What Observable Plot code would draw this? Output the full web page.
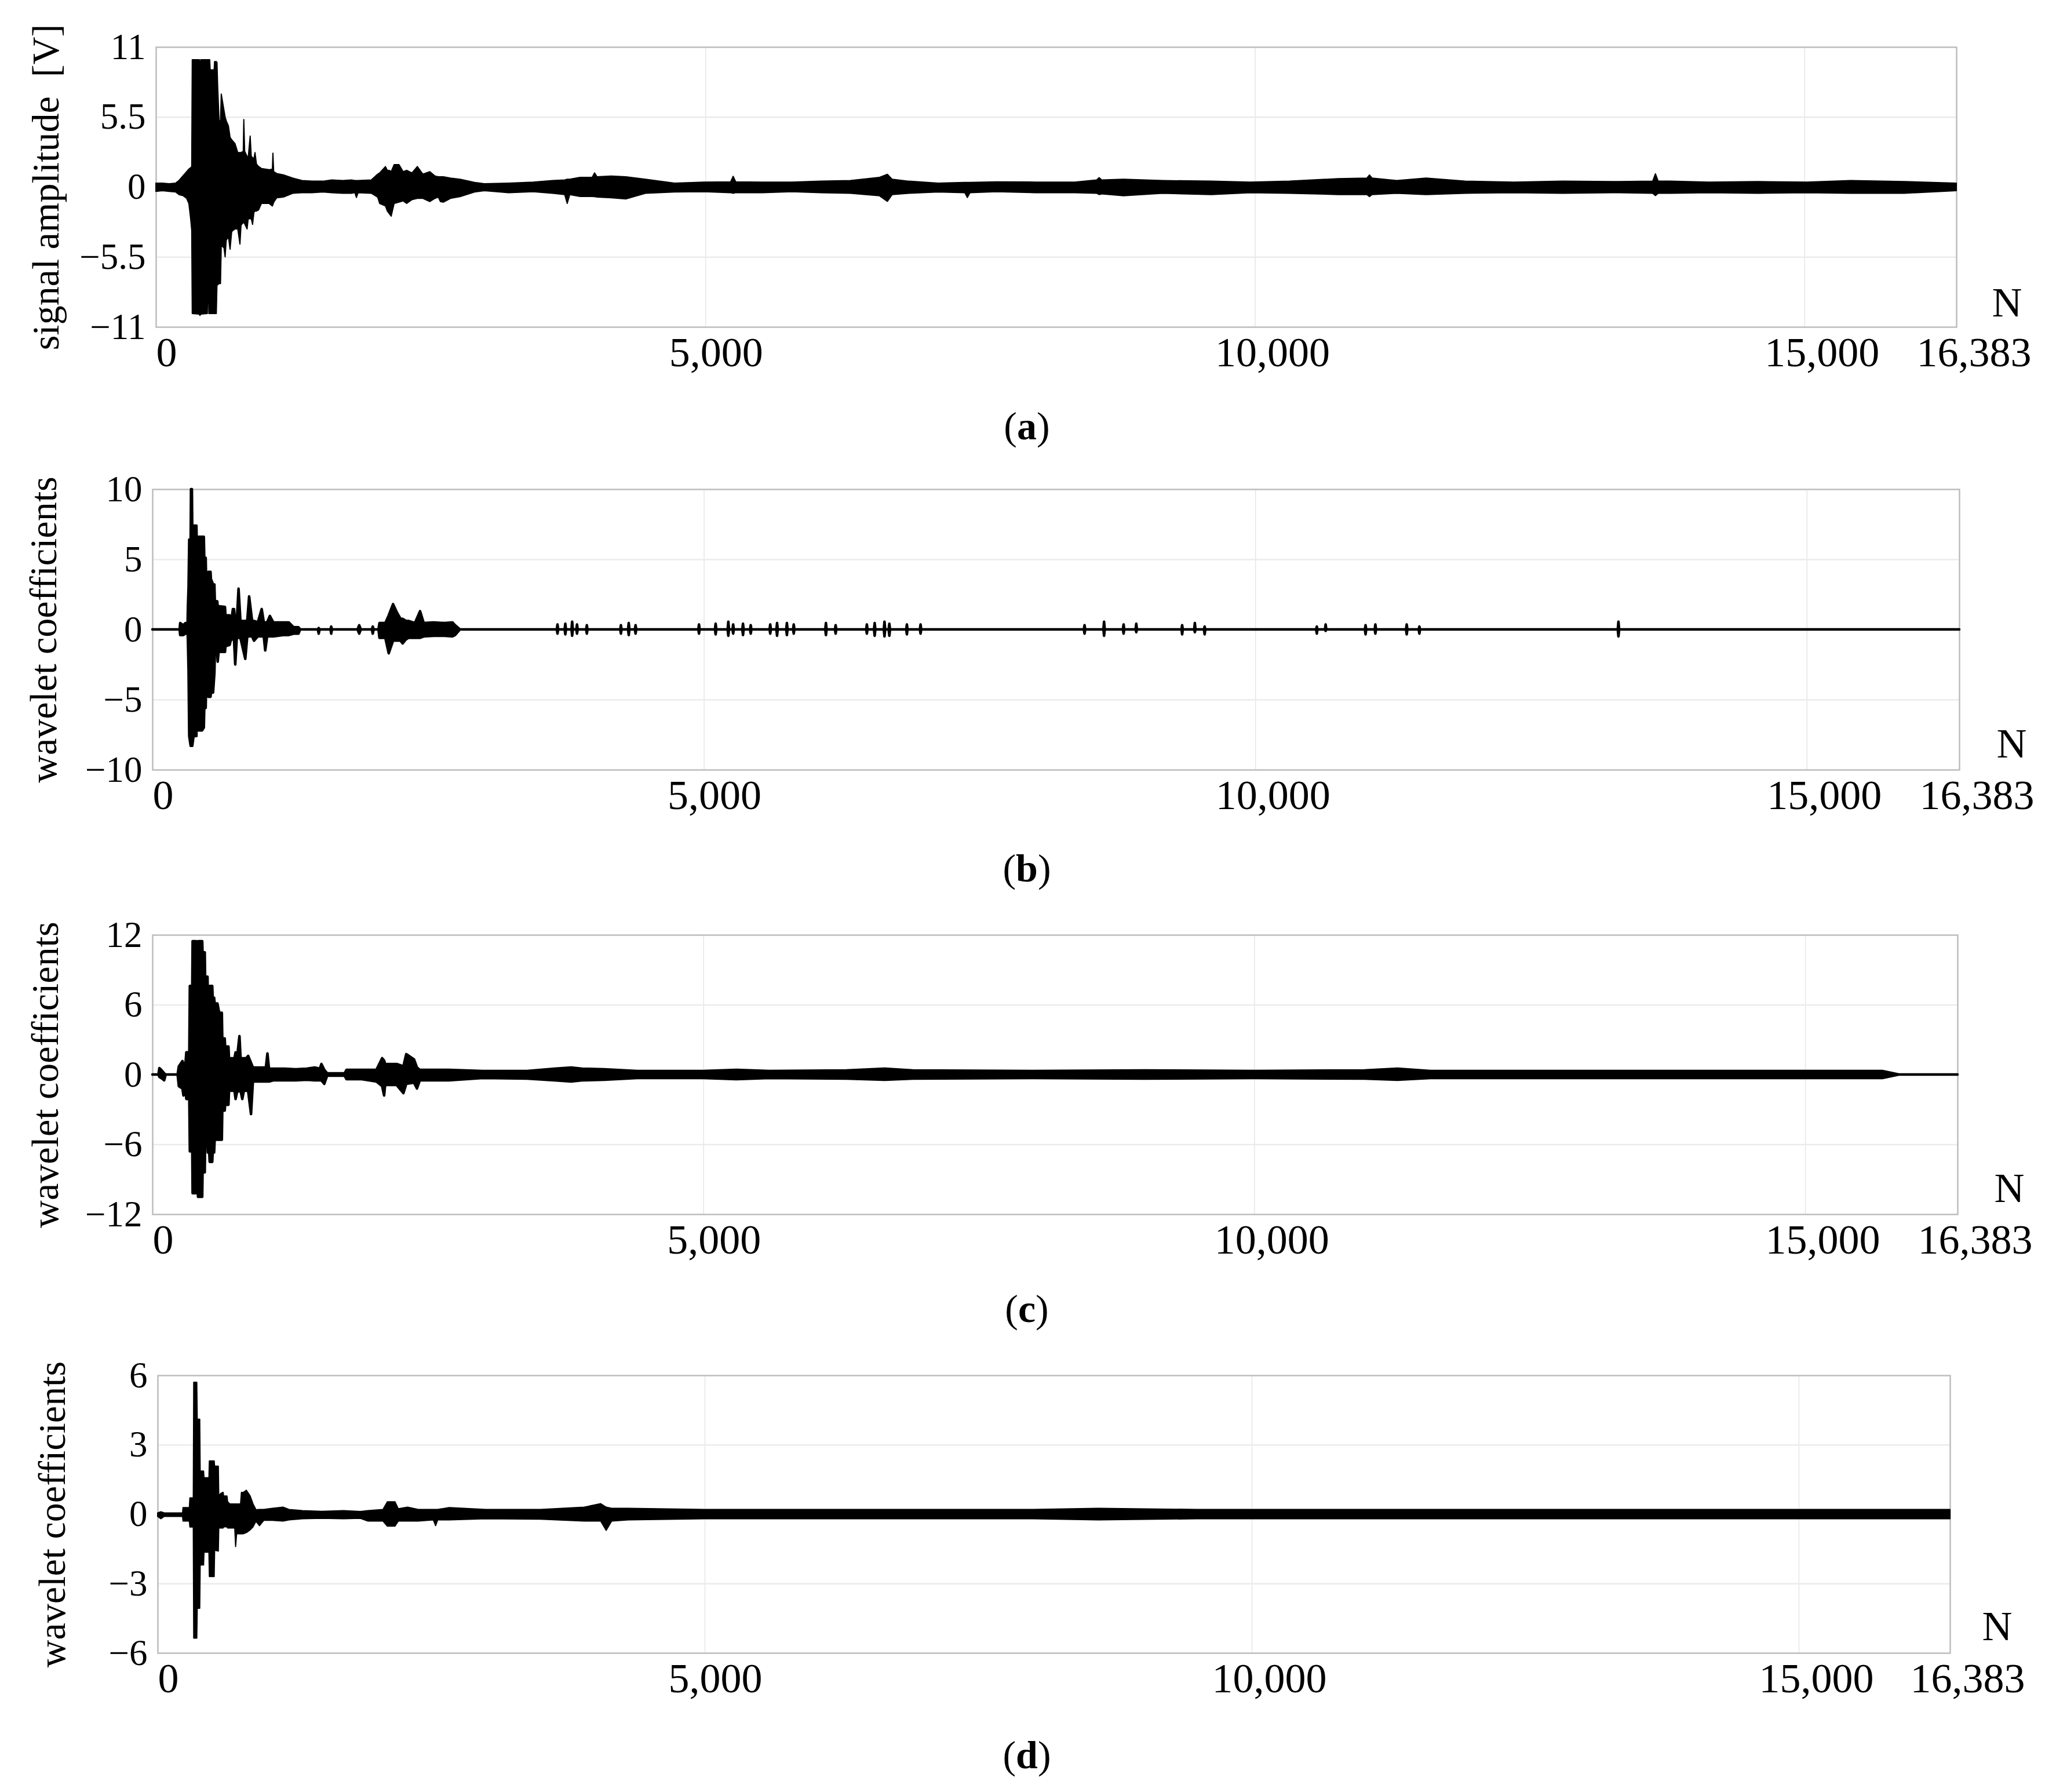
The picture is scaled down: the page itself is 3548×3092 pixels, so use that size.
<!DOCTYPE html>
<html>
<head>
<meta charset="utf-8">
<script src="https://cdn.jsdelivr.net/npm/d3@7"></script>
<script src="https://cdn.jsdelivr.net/npm/@observablehq/plot@0.6"></script>
<style>
  html, body { margin: 0; padding: 0; background: #fff; }
  #root { position: relative; width: 3548px; height: 3092px; background: #fff; overflow: hidden; }
  .panel { position: absolute; left: 0; }
  .cap { position: absolute; font-family: 'Liberation Serif', 'Times New Roman', serif; font-size: 68px; color: #000; transform: translate(-50%, -50%); white-space: nowrap; }
</style>
</head>
<body>
<div id="root"></div>
<script>
// ---------- tick values / labels ----------
const xTicksLeft = [0, 5000];
const xTicksRight = [10000, 15000, 16383];
const xGrid = [5000, 10000, 15000];
const yTicksA = [-11, -5.5, 0, 5.5, 11];
const yTicksB = [-10, -5, 0, 5, 10];
const yTicksC = [-12, -6, 0, 6, 12];
const yTicksD = [-6, -3, 0, 3, 6];
const titles = ["signal amplitude\u00a0 [V]", "wavelet coefficients", "wavelet coefficients", "wavelet coefficients"];
const captions = ["a", "b", "c", "d"];

// ---------- signal envelopes: [N, upper, lower] ----------
const envA = [
  [0,0.3,-0.35],[60,0.3,-0.3],[120,0.25,-0.35],[180,0.3,-0.4],[210,0.5,-0.6],[250,0.9,-0.7],[280,1.2,-0.9],
  [300,1.4,-1.3],[315,1.5,-2.4],[326,1.6,-3.4],[331,10.0,-9.95],[395,10.0,-10.0],[401,9.4,-10.1],[408,10.0,-10.0],
  [468,10.0,-9.95],[472,10.0,-8.0],[478,10.0,-8.0],[482,10.0,-9.95],[490,10.0,-9.95],[494,9.2,-9.95],[530,9.2,-9.95],
  [534,9.85,-9.95],[550,9.85,-9.95],[556,9.8,-7.7],[562,8.0,-7.7],[575,5.2,-7.6],[588,5.2,-7.6],[595,7.3,-4.6],
  [620,6.0,-4.8],[630,5.5,-5.5],[640,5.2,-4.2],[660,4.8,-3.9],[675,3.9,-4.9],[690,3.7,-3.5],[720,3.4,-3.3],
  [745,2.7,-3.3],[765,2.7,-4.5],[775,2.7,-3.0],[795,2.8,-2.8],[800,5.3,-2.8],[808,2.8,-2.9],[830,2.4,-3.3],
  [840,2.3,-2.5],[858,4.0,-2.5],[868,2.4,-2.5],[880,2.3,-2.95],[892,2.2,-2.0],[902,2.7,-1.9],[915,1.8,-1.9],
  [935,1.6,-1.8],[960,1.45,-1.3],[1030,1.35,-1.3],[1060,1.4,-1.5],[1065,2.65,-1.4],[1072,1.2,-1.2],[1100,1.05,-0.85],
  [1160,0.95,-0.8],[1245,0.7,-0.5],[1330,0.5,-0.45],[1420,0.45,-0.45],[1520,0.45,-0.4],[1600,0.55,-0.45],
  [1700,0.5,-0.5],[1780,0.55,-0.5],[1810,0.5,-0.45],[1825,0.5,-0.83],[1840,0.5,-0.45],[1960,0.55,-0.5],[2018,1.0,-0.8],
  [2036,1.1,-1.3],[2089,1.6,-1.5],[2106,1.3,-1.9],[2124,1.3,-2.1],[2141,1.2,-2.3],[2168,1.75,-1.3],[2212,1.75,-1.2],
  [2250,1.2,-1.1],[2282,1.3,-1.3],[2330,1.1,-1.0],[2379,1.6,-0.9],[2430,1.0,-0.9],[2493,1.2,-1.15],[2540,0.85,-0.9],
  [2570,0.8,-0.8],[2589,0.8,-1.15],[2616,0.8,-1.2],[2680,0.7,-0.9],[2767,0.6,-0.76],[2900,0.35,-0.4],[2989,0.25,-0.3],
  [3211,0.3,-0.45],[3433,0.38,-0.38],[3610,0.5,-0.5],[3720,0.55,-0.6],[3743,0.6,-1.3],[3766,0.6,-0.6],[3860,0.75,-0.75],
  [3970,0.75,-0.75],[3992,1.1,-0.76],[4014,0.8,-0.8],[4143,0.85,-0.85],[4276,0.8,-0.95],[4454,0.6,-0.5],[4720,0.3,-0.4],
  [4987,0.38,-0.38],[5230,0.4,-0.45],[5253,0.83,-0.5],[5276,0.4,-0.45],[5519,0.38,-0.45],[5786,0.38,-0.38],
  [6052,0.45,-0.45],[6319,0.5,-0.5],[6585,0.75,-0.7],[6656,0.99,-1.14],[6700,0.6,-0.6],[6851,0.45,-0.5],
  [7118,0.3,-0.4],[7360,0.35,-0.45],[7384,0.35,-0.83],[7408,0.35,-0.45],[7650,0.4,-0.38],[8006,0.38,-0.45],
  [8361,0.38,-0.45],[8560,0.55,-0.5],[8583,0.73,-0.6],[8606,0.55,-0.55],[8805,0.6,-0.7],[9160,0.5,-0.5],
  [9604,0.45,-0.6],[9959,0.38,-0.45],[10315,0.45,-0.5],[10759,0.65,-0.6],[11020,0.7,-0.6],[11043,0.94,-0.76],
  [11066,0.7,-0.6],[11291,0.5,-0.5],[11558,0.7,-0.6],[11913,0.45,-0.5],[12357,0.38,-0.45],[12801,0.45,-0.5],
  [13245,0.42,-0.45],[13620,0.45,-0.5],[13645,1.03,-0.68],[13670,0.45,-0.5],[13778,0.45,-0.5],[14133,0.38,-0.45],
  [14577,0.42,-0.5],[15021,0.38,-0.45],[15421,0.5,-0.5],[15909,0.42,-0.5],[16383,0.3,-0.3]
];

const envB = [
  [0,0,0],[247,0,0],[252,0.45,-0.4],[280,0.3,-0.4],[300,0.45,-0.3],[308,0,0],[318,0,0],[322,1.6,-0.75],[328,3.0,-3.0],
  [334,6.4,-7.6],[347,6.4,-8.3],[350,10.0,-8.3],[358,10.0,-8.3],[361,7.4,-8.3],[373,7.4,-7.6],[399,7.4,-7.6],
  [402,6.0,-5.0],[415,6.0,-5.0],[418,6.6,-7.2],[450,6.6,-7.2],[466,6.6,-7.0],[470,5.1,-5.6],[483,5.1,-5.6],
  [487,3.5,-3.9],[504,3.5,-3.9],[507,4.1,-4.8],[527,4.1,-4.8],[530,3.6,-4.5],[550,3.2,-4.5],[562,3.2,-3.1],
  [566,2.0,-1.7],[588,2.0,-1.7],[592,1.65,-2.3],[600,1.65,-1.6],[658,1.6,-1.6],[662,1.0,-1.2],[700,1.0,-1.1],
  [711,0.35,-0.75],[730,1.45,-0.7],[740,1.45,-0.7],[751,0.5,-2.5],[765,0.5,-0.6],[781,2.9,-0.6],[798,0.6,-0.6],
  [842,0.6,-2.1],[860,0.6,-0.5],[877,2.35,-0.5],[904,0.6,-0.5],[921,0.6,-0.8],[956,0.5,-0.5],[991,1.45,-0.5],
  [1010,0.5,-0.5],[1023,0.5,-1.5],[1040,0.5,-0.5],[1065,0.96,-0.5],[1096,0.5,-0.5],[1184,0.5,-0.4],[1236,0.5,-0.4],
  [1280,0.15,-0.3],[1324,0.15,-0.3],[1340,0,0],[1500,0,0],[1508,0.1,-0.3],[1516,0,0],[1615,0,0],[1621,0.2,-0.3],
  [1628,0,0],[1860,0,0],[1875,0.3,-0.3],[1890,0,0],[1990,0,0],[1998,0.2,-0.3],[2006,0,0],[2050,0,0],[2059,0.45,-0.6],
  [2112,0.45,-0.6],[2143,1.0,-1.7],[2182,1.8,-0.8],[2217,1.2,-0.8],[2250,0.75,-0.8],[2269,0.75,-1.0],[2300,0.6,-0.7],
  [2322,0.6,-0.6],[2380,0.45,-0.6],[2427,1.3,-0.6],[2460,0.45,-0.5],[2550,0.5,-0.45],[2650,0.45,-0.45],[2720,0.5,-0.5],
  [2744,0.3,-0.4],[2788,0,0],
  // isolated coefficient spikes further out
  [3667,0,0],[3673,0.35,-0.3],[3679,0,0],[3738,0,0],[3744,0.4,-0.35],[3750,0,0],[3800,0,0],[3806,0.55,-0.45],[3812,0,0],
  [3844,0,0],[3850,0.35,-0.3],[3856,0,0],[3933,0,0],[3939,0.3,-0.3],[3945,0,0],
  [4242,0,0],[4248,0.3,-0.3],[4254,0,0],[4313,0,0],[4319,0.45,-0.4],[4325,0,0],[4375,0,0],[4381,0.3,-0.3],[4387,0,0],
  [4950,0,0],[4956,0.35,-0.3],[4962,0,0],[5101,0,0],[5107,0.4,-0.35],[5113,0,0],[5216,0,0],[5222,0.55,-0.45],[5228,0,0],
  [5260,0,0],[5266,0.35,-0.3],[5272,0,0],[5349,0,0],[5355,0.4,-0.4],[5361,0,0],[5419,0,0],[5425,0.3,-0.3],[5431,0,0],
  [5596,0,0],[5602,0.35,-0.3],[5608,0,0],[5658,0,0],[5664,0.45,-0.45],[5670,0,0],[5747,0,0],[5753,0.45,-0.4],[5759,0,0],
  [5809,0,0],[5815,0.35,-0.3],[5821,0,0],[6101,0,0],[6107,0.45,-0.4],[6113,0,0],[6189,0,0],[6195,0.3,-0.3],[6201,0,0],
  [6472,0,0],[6478,0.35,-0.3],[6484,0,0],[6543,0,0],[6549,0.45,-0.45],[6555,0,0],[6632,0,0],[6638,0.55,-0.5],[6644,0,0],
  [6676,0,0],[6682,0.4,-0.45],[6688,0,0],[6835,0,0],[6841,0.35,-0.35],[6847,0,0],[6959,0,0],[6965,0.35,-0.3],[6971,0,0],
  [8446,0,0],[8452,0.3,-0.3],[8458,0,0],[8623,0,0],[8629,0.55,-0.45],[8635,0,0],[8800,0,0],[8806,0.35,-0.3],[8812,0,0],
  [8915,0,0],[8921,0.4,-0.2],[8927,0,0],[9331,0,0],[9337,0.3,-0.35],[9343,0,0],[9446,0,0],[9452,0.45,-0.2],[9458,0,0],
  [9535,0,0],[9541,0.2,-0.35],[9547,0,0],[10552,0,0],[10558,0.2,-0.3],[10564,0,0],[10632,0,0],[10638,0.35,-0.1],[10644,0,0],
  [10994,0,0],[11000,0.3,-0.35],[11006,0,0],[11083,0,0],[11089,0.35,-0.3],[11095,0,0],[11367,0,0],[11373,0.35,-0.35],[11379,0,0],
  [11482,0,0],[11488,0.2,-0.3],[11494,0,0],[13287,0,0],[13293,0.55,-0.5],[13299,0,0],
  [16383,0,0]
];

const envC = [
  [0,0,0],[55,0,0],[63,0.55,-0.2],[80,0.4,-0.3],[107,0.1,-0.5],[120,0,0],[229,0,0],[240,0.7,-1.0],[273,1.15,-1.2],
  [282,0.9,-1.8],[300,0.9,-1.2],[308,1.9,-2.1],[335,1.9,-2.1],[340,7.6,-6.6],[362,7.6,-6.6],[365,11.45,-10.2],
  [396,11.45,-10.2],[400,5.8,-4.2],[408,5.8,-4.2],[414,11.45,-10.5],[452,11.45,-10.5],[455,10.5,-8.4],[475,10.5,-8.4],
  [478,8.4,-5.9],[500,8.4,-5.9],[503,6.6,-6.7],[516,6.6,-6.7],[520,7.6,-7.5],[543,7.6,-7.5],[547,6.6,-6.7],
  [560,6.6,-6.7],[565,6.1,-5.6],[590,6.1,-5.6],[606,5.3,-5.6],[630,5.3,-5.6],[634,3.1,-3.1],[656,3.1,-3.1],
  [660,2.4,-2.6],[690,2.4,-2.6],[695,1.4,-1.4],[745,1.4,-1.4],[755,1.9,-2.1],[768,1.4,-1.5],[790,3.3,-1.4],
  [800,1.4,-1.4],[816,1.4,-2.1],[830,1.4,-1.4],[851,1.4,-1.4],[869,1.6,-1.4],[895,1.0,-3.4],[912,0.6,-0.6],
  [991,0.6,-0.6],[1030,0.6,-0.6],[1044,1.8,-0.6],[1058,0.5,-0.6],[1096,0.5,-0.5],[1200,0.5,-0.5],[1300,0.45,-0.5],[1400,0.5,-0.45],
  [1473,0.6,-0.5],[1520,0.5,-0.5],[1534,0.9,-0.5],[1560,0.4,-0.8],[1586,0.1,-0.1],[1744,0.1,-0.1],[1762,0.4,-0.4],[1900,0.4,-0.4],
  [2033,0.4,-0.6],[2085,1.4,-1.0],[2103,1.2,-1.8],[2112,0.9,-0.9],[2217,0.9,-0.9],[2278,0.7,-1.6],[2304,1.75,-0.8],
  [2374,1.3,-0.7],[2401,0.6,-1.2],[2427,0.4,-0.5],[2690,0.4,-0.5],[3000,0.3,-0.3],[3400,0.3,-0.35],[3650,0.5,-0.5],
  [3800,0.6,-0.6],[3900,0.5,-0.5],[4100,0.45,-0.45],[4400,0.3,-0.3],[5000,0.3,-0.3],[5300,0.4,-0.4],[5600,0.3,-0.3],[6300,0.35,-0.35],
  [6650,0.5,-0.45],[6900,0.35,-0.35],[8000,0.3,-0.3],[9000,0.35,-0.35],[10000,0.3,-0.3],[11000,0.35,-0.35],
  [11300,0.5,-0.45],[11600,0.3,-0.3],[13000,0.3,-0.3],[14500,0.3,-0.3],[15700,0.3,-0.3],[15850,0,0],[16383,0,0]
];

const envD = [
  [0,0.05,-0.1],[30,0.1,-0.2],[60,0.05,-0.1],[228,0.05,-0.1],[232,0.28,-0.3],[290,0.28,-0.3],[295,0.7,-0.56],
  [326,0.7,-0.56],[330,5.7,-5.36],[358,5.7,-5.36],[362,4.1,-4.07],[385,4.1,-4.07],[389,1.86,-2.2],[420,1.86,-2.2],
  [424,1.57,-1.65],[469,1.57,-1.65],[473,2.3,-2.7],[517,2.3,-2.7],[521,2.07,-1.56],[555,2.07,-1.6],[559,0.78,-0.6],
  [578,0.9,-0.6],[599,0.94,-0.6],[603,0.78,-0.55],[634,0.78,-0.55],[640,0.53,-0.6],[660,0.44,-0.6],[705,0.44,-0.6],
  [713,0.44,-1.4],[722,0.44,-0.85],[758,0.44,-0.85],[766,0.94,-0.85],[784,0.94,-0.85],[811,1.03,-0.8],[846,0.78,-0.68],
  [872,0.44,-0.55],[899,0.19,-0.31],[931,0.2,-0.5],[970,0.2,-0.27],[1050,0.25,-0.27],[1146,0.3,-0.3],[1200,0.2,-0.25],
  [1323,0.15,-0.2],[1500,0.12,-0.18],[1700,0.15,-0.2],[1853,0.11,-0.18],[1923,0.15,-0.3],[2060,0.2,-0.3],
  [2100,0.53,-0.52],[2170,0.53,-0.52],[2200,0.23,-0.3],[2285,0.3,-0.3],[2382,0.2,-0.3],[2520,0.2,-0.25],[2541,0.2,-0.5],
  [2560,0.2,-0.25],[2665,0.28,-0.25],[3000,0.2,-0.2],[3500,0.2,-0.22],[3900,0.3,-0.3],[4050,0.45,-0.3],[4100,0.3,-0.7],
  [4150,0.25,-0.3],[4300,0.25,-0.25],[5000,0.2,-0.2],[6000,0.2,-0.2],[7000,0.2,-0.2],[8000,0.2,-0.2],[8600,0.25,-0.25],
  [9500,0.2,-0.2],[10500,0.2,-0.2],[11500,0.2,-0.2],[12500,0.2,-0.2],[13500,0.2,-0.2],[14500,0.2,-0.2],[15500,0.2,-0.2],
  [16383,0.2,-0.2]
];

// ---------- layout (measured frame edges) ----------
const panels = [
  {env: envA, ticks: yTicksA, top: 81,   bottom: 564,  left: 269, right: 3376, nDx: 87, nDy: -42, titleDx: -190, cap: 735, zero: 2},
  {env: envB, ticks: yTicksB, top: 844,  bottom: 1328, left: 263, right: 3381, nDx: 90, nDy: -45, titleDx: -188, cap: 1498, zero: 4.5},
  {env: envC, ticks: yTicksC, top: 1613, bottom: 2095, left: 263, right: 3378, nDx: 89, nDy: -45, titleDx: -185, cap: 2258, zero: 4.5},
  {env: envD, ticks: yTicksD, top: 2373, bottom: 2852, left: 272, right: 3365, nDx: 81, nDy: -46, titleDx: -182, cap: 3028, zero: 2}
];

const root = document.getElementById("root");
const W = 3548, MT = 60, MB = 90;
const fmtX = d3.format(",");
const fmtY = d => (d < 0 ? "\u2212" : "") + String(Math.abs(d));

panels.forEach((p, i) => {
  const rows = p.env.map(([n, hi, lo]) => ({n, hi, lo}));
  const yMax = p.ticks[p.ticks.length - 1];
  const chart = Plot.plot({
    width: W,
    height: MT + (p.bottom - p.top) + MB,
    marginTop: MT, marginBottom: MB, marginLeft: p.left, marginRight: W - p.right,
    style: {fontFamily: "'Liberation Serif', 'Times New Roman', serif", color: "#000", background: "#fff", overflow: "visible"},
    x: {domain: [0, 16383]},
    y: {domain: [-yMax, yMax]},
    marks: [
      Plot.gridX(xGrid, {stroke: "#e6e6e6", strokeOpacity: 1, strokeWidth: 1.5}),
      Plot.gridY([p.ticks[1], p.ticks[3]], {stroke: "#ebebeb", strokeOpacity: 1, strokeWidth: 2.5}),
      Plot.frame({stroke: "#bdbdbd", strokeWidth: 2.5}),
      Plot.areaY(rows, {x: "n", y1: "lo", y2: "hi", fill: "#000", stroke: "#000", strokeWidth: p.zero, curve: "linear"}),
      Plot.axisX(xTicksLeft, {tickFormat: fmtX, tickSize: 0, tickPadding: 16, fontSize: 72, dx: 18, label: null}),
      Plot.axisX(xTicksRight, {tickFormat: fmtX, tickSize: 0, tickPadding: 16, fontSize: 72, dx: 30, label: null}),
      Plot.axisY(p.ticks, {tickFormat: fmtY, tickSize: 0, tickPadding: 18, fontSize: 63, label: null}),
      Plot.text([titles[i]], {frameAnchor: "left", dx: p.titleDx, rotate: -90, textAnchor: "middle", fontSize: 66, text: d => d}),
      Plot.text(["N"], {frameAnchor: "bottom-right", dx: p.nDx, dy: p.nDy, textAnchor: "middle", lineAnchor: "middle", fontSize: 72, text: d => d})
    ]
  });
  const div = document.createElement("div");
  div.className = "panel";
  div.style.top = (p.top - MT) + "px";
  div.appendChild(chart);
  root.appendChild(div);

  const cap = document.createElement("div");
  cap.className = "cap";
  cap.style.left = "1772px";
  cap.style.top = p.cap + "px";
  cap.innerHTML = "(<b>" + captions[i] + "</b>)";
  root.appendChild(cap);
});
</script>
</body>
</html>
